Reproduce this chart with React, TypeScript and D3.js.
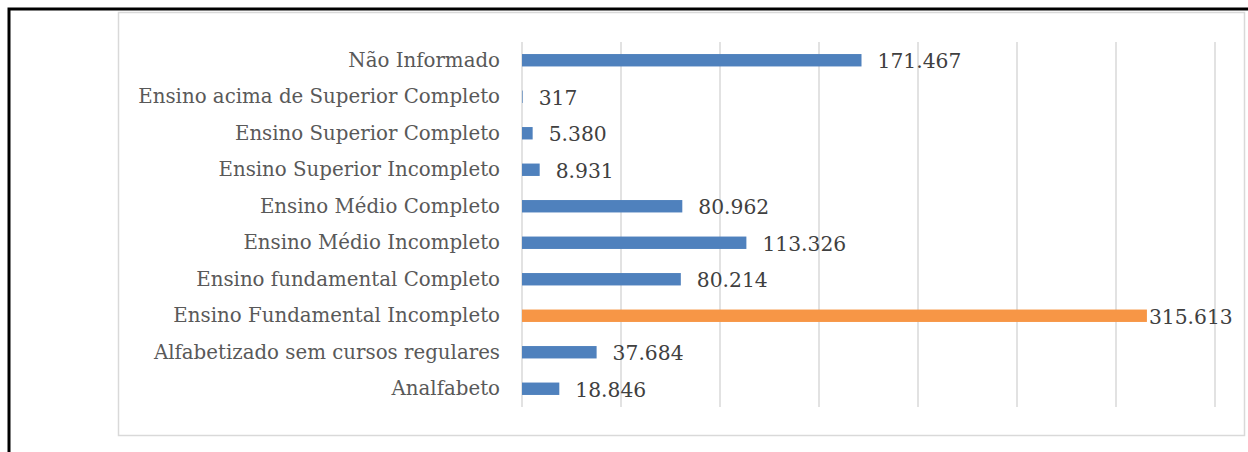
import React from "react";
import * as d3 from "d3";

// categories from top to bottom
const categories = [
  "Não Informado",
  "Ensino acima de Superior Completo",
  "Ensino Superior Completo",
  "Ensino Superior Incompleto",
  "Ensino Médio Completo",
  "Ensino Médio Incompleto",
  "Ensino fundamental Completo",
  "Ensino Fundamental Incompleto",
  "Alfabetizado sem cursos regulares",
  "Analfabeto",
];
const values = [171467, 317, 5380, 8931, 80962, 113326, 80214, 315613, 37684, 18846];
const highlight = "Ensino Fundamental Incompleto";
const gridTicks = [0, 50000, 100000, 150000, 200000, 250000, 300000, 350000];

const W = 1248;
const H = 452;
const font = "'DejaVu Serif', serif";

export default function App() {
  const x = d3.scaleLinear().domain([0, 350000]).range([522, 1215]);
  const y = d3.scaleBand().domain(categories).range([42, 407]).paddingInner(0.66).paddingOuter(0.33);
  const fmt = (v: number) => d3.format(",")(v).replace(/,/g, ".");

  return (
    <svg width={W} height={H} style={{ position: "absolute", left: 0, top: 0, background: "#fff" }}>
      {/* outer black frame */}
      <rect x={9} y={9} width={W + 10} height={H + 10} fill="none" stroke="#000" strokeWidth={3} />
      {/* chart area frame */}
      <rect x={118.5} y={12.5} width={1126} height={423} fill="#fff" stroke="#d9d9d9" strokeWidth={1.5} />
      {gridTicks.map((t) => (
        <line key={t} x1={x(t)} x2={x(t)} y1={42} y2={407} stroke="#d9d9d9" strokeWidth={1.5} />
      ))}
      {categories.map((c, i) => {
        const by = y(c)!;
        const bh = y.bandwidth();
        const cy = by + bh / 2;
        return (
          <g key={c}>
            <rect
              x={x(0)}
              y={by}
              width={x(values[i]) - x(0)}
              height={bh}
              fill={c === highlight ? "#f79646" : "#4f81bd"}
            />
            <text x={500} y={cy} textAnchor="end" dominantBaseline="central" fontFamily={font} fontSize={19.8} fill="#595959">
              {c}
            </text>
            <text
              x={x(values[i]) + (c === highlight ? 2 : 16)}
              y={cy + 1}
              dominantBaseline="central"
              fontFamily={font}
              fontSize={20.3}
              fill="#404040"
            >
              {fmt(values[i])}
            </text>
          </g>
        );
      })}
    </svg>
  );
}
